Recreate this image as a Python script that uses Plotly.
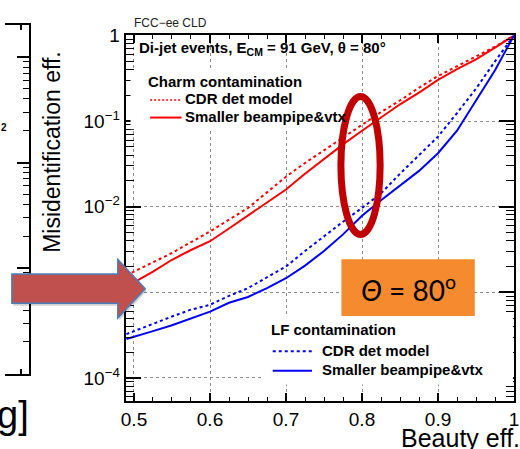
import plotly.graph_objects as go

# ---------------- data ----------------
beauty_eff = [0.490, 0.500, 0.525, 0.550, 0.575, 0.600, 0.625, 0.650, 0.675, 0.700,
              0.725, 0.750, 0.775, 0.800, 0.825, 0.850, 0.875, 0.900, 0.925, 0.950,
              0.975, 1.000]

charm_cdr = [1.58e-3, 1.75e-3, 2.22e-3, 2.88e-3, 3.85e-3, 5.14e-3, 7.05e-3, 9.66e-3, 1.47e-2, 2.24e-2,
             3.24e-2, 4.56e-2, 6.41e-2, 9.02e-2, 0.127, 0.174, 0.245, 0.336, 0.437, 0.569,
             0.739, 1.0]
charm_small = [1.18e-3, 1.31e-3, 1.75e-3, 2.40e-3, 3.12e-3, 3.95e-3, 5.56e-3, 7.83e-3, 1.13e-2, 1.59e-2,
               2.43e-2, 3.60e-2, 5.34e-2, 7.71e-2, 0.111, 0.157, 0.215, 0.303, 0.404, 0.525,
               0.720, 1.0]
lf_cdr = [3.25e-4, 3.52e-4, 4.35e-4, 5.22e-4, 6.28e-4, 7.16e-4, 9.08e-4, 1.12e-3, 1.50e-3, 2.00e-3,
          3.04e-3, 4.51e-3, 6.68e-3, 9.66e-3, 1.43e-2, 2.43e-2, 4.00e-2, 6.58e-2, 0.124, 0.239,
          0.498, 1.0]
lf_small = [2.85e-4, 3.01e-4, 3.52e-4, 4.12e-4, 4.95e-4, 5.96e-4, 7.55e-4, 8.83e-4, 1.12e-3, 1.46e-3,
            2.05e-3, 3.04e-3, 4.75e-3, 7.83e-3, 1.19e-2, 1.77e-2, 2.62e-2, 4.21e-2, 7.71e-2, 0.174,
            0.393, 1.0]

x_tickvals = [0.5, 0.6, 0.7, 0.8, 0.9, 1.0]
x_ticktext = ["0.5", "0.6", "0.7", "0.8", "0.9", "1"]
y_tickvals = [1e-4, 1e-3, 1e-2, 1e-1, 1]
y_ticktext = ["10<sup>\u22124</sup>", "10<sup>\u22123</sup>", "10<sup>\u22122</sup>",
              "10<sup>\u22121</sup>", "1"]

# ---------------- geometry helpers ----------------
W, H = 520, 449
def PX(x):
    return x / W
def PY(y):
    return 1 - y / H

FONT = "Liberation Sans, Arial, Helvetica, sans-serif"
RED = "#ff0000"
BLUE = "#0000ff"

minor_log = [m * 10.0 ** e for e in range(-6, 4) for m in range(2, 10)]

fig = go.Figure()

series = [
    (charm_cdr, RED, "dot"),
    (charm_small, RED, "solid"),
    (lf_cdr, BLUE, "dot"),
    (lf_small, BLUE, "solid"),
]
for ys, col, dash in series:
    fig.add_trace(go.Scatter(x=beauty_eff, y=ys, mode="lines",
                             line=dict(color=col, width=2, dash=dash),
                             xaxis="x", yaxis="y", showlegend=False, hoverinfo="skip"))

# empty trace for the neighbouring (cut-off) panel
fig.add_trace(go.Scatter(x=[], y=[], xaxis="x2", yaxis="y2", showlegend=False))

shapes = []
# white legend boxes (drawn above curves/grid like ROOT TLegend)
shapes.append(dict(type="rect", xref="paper", yref="paper", layer="above",
                   x0=PX(128), x1=PX(353), y0=PY(62), y1=PY(122),
                   fillcolor="white", line=dict(width=0)))
shapes.append(dict(type="rect", xref="paper", yref="paper", layer="above",
                   x0=PX(263), x1=PX(518), y0=PY(313), y1=PY(383),
                   fillcolor="white", line=dict(width=0)))
# legend sample lines
shapes.append(dict(type="line", xref="paper", yref="paper", layer="above",
                   x0=PX(148), x1=PX(180), y0=PY(92), y1=PY(92),
                   line=dict(color=RED, width=1.5, dash="2px,2px")))
shapes.append(dict(type="line", xref="paper", yref="paper", layer="above",
                   x0=PX(148), x1=PX(180), y0=PY(110), y1=PY(110),
                   line=dict(color=RED, width=2)))
shapes.append(dict(type="line", xref="paper", yref="paper", layer="above",
                   x0=PX(273), x1=PX(313), y0=PY(349), y1=PY(349),
                   line=dict(color=BLUE, width=2, dash="dot")))
shapes.append(dict(type="line", xref="paper", yref="paper", layer="above",
                   x0=PX(273), x1=PX(313), y0=PY(369), y1=PY(369),
                   line=dict(color=BLUE, width=2)))
# orange box
shapes.append(dict(type="rect", xref="paper", yref="paper", layer="above",
                   x0=PX(343), x1=PX(479), y0=PY(255), y1=PY(313),
                   fillcolor="#F58B2E", line=dict(width=0)))
# red ellipse
shapes.append(dict(type="circle", xref="paper", yref="paper", layer="above",
                   x0=PX(342.5), x1=PX(382.5), y0=PY(88.5), y1=PY(229.5),
                   line=dict(color="#C00000", width=7)))
# arrow (shadow + body)
def arrow_path(dx, dy):
    pts = [(7, 270), (115, 270), (115, 255), (143, 285), (115, 315), (115, 300), (7, 300)]
    return "M " + " L ".join(f"{PX(x + dx):.5f},{PY(y + dy):.5f}" for x, y in pts) + " Z"
shapes.append(dict(type="path", xref="paper", yref="paper", layer="above",
                   path=arrow_path(1.5, 2.5), fillcolor="rgba(0,0,0,0.18)", line=dict(width=0)))
shapes.append(dict(type="path", xref="paper", yref="paper", layer="above",
                   path=arrow_path(0, 0), fillcolor="#C0504D",
                   line=dict(color="#4A7EBB", width=1.5)))

def ann(text, x, y, size, xanchor="left", color="black", angle=0, family=FONT):
    return dict(text=text, x=PX(x), y=PY(y), xref="paper", yref="paper",
                xanchor=xanchor, yanchor="middle", showarrow=False, textangle=angle,
                font=dict(family=family, size=size, color=color))

annotations = [
    ann("FCC\u2212ee CLD", 129, 13, 12, color="#222"),
    ann("<b>Di-jet events, E<sub>CM</sub> = 91 GeV, \u03b8 = 80\u00b0</b>", 135, 39, 15),
    ann("<b>Charm contamination</b>", 144, 73, 15),
    ann("<b>CDR det model</b>", 181, 91, 15),
    ann("<b>Smaller beampipe&vtx</b>", 181, 109, 15),
    ann("<b>LF contamination</b>", 269, 327, 15),
    ann("<b>CDR det model</b>", 321, 348, 15),
    ann("<b>Smaller beampipe&vtx</b>", 321, 368, 15),
    ann("Misidentification eff.", 48, 145, 23, xanchor="center", angle=-90),
    ann("Beauty eff.", 402, 438, 25),
    ann("<i>\u0398</i> = 80<sup>o</sup>", 411, 285, 28, xanchor="center", family="Lato, Carlito, sans-serif"),
    ann("<b>2</b>", 4, 120, 10, xanchor="right"),
    ann("g]", 26, 414, 38, xanchor="right"),
]

axis_common = dict(showline=True, linecolor="black", linewidth=2, zeroline=False)

fig.update_layout(
    width=W, height=H,
    margin=dict(l=0, r=0, t=0, b=0),
    paper_bgcolor="white", plot_bgcolor="white",
    showlegend=False,
    xaxis=dict(domain=[123 / W, 519 / W], anchor="y", range=[0.489, 1.0],
               mirror="ticks", ticks="inside", ticklen=8, tickwidth=1.5, tickcolor="black",
               tickvals=x_tickvals, ticktext=x_ticktext, ticklabeloverflow="allow",
               tickfont=dict(family=FONT, size=19, color="black"),
               showgrid=True, gridcolor="#8c8c8c", griddash="dot", gridwidth=1,
               minor=dict(ticks="inside", ticklen=4, tickwidth=1, tickcolor="black",
                          dtick=0.025, tick0=0.5, showgrid=False),
               **axis_common),
    yaxis=dict(domain=[1 - 400 / H, 1 - 26 / H], anchor="x", type="log", range=[-4.27, 0],
               mirror="ticks", ticks="inside", ticklen=15, tickwidth=1.5, tickcolor="black",
               tickvals=y_tickvals, ticktext=y_ticktext,
               tickfont=dict(family=FONT, size=19, color="black"),
               showgrid=True, gridcolor="#8c8c8c", griddash="dot", gridwidth=1,
               minor=dict(ticks="inside", ticklen=8, tickwidth=1, tickcolor="black",
                          tickvals=minor_log, showgrid=False),
               **axis_common),
    xaxis2=dict(domain=[0, 24 / W], anchor="y2", range=[0, 1],
                mirror="ticks", ticks="inside", ticklen=5, tickwidth=1.5, tickcolor="black",
                tickvals=[0.667], showticklabels=False, showgrid=False,
                **axis_common),
    yaxis2=dict(domain=[1 - 372 / H, 1 - 15 / H], anchor="x2", type="log", range=[0, 3.3056],
                side="right", ticks="inside", ticklen=12, tickwidth=1.5, tickcolor="black",
                tickvals=[1, 10, 100, 1000], showticklabels=False, showgrid=False,
                minor=dict(ticks="inside", ticklen=6, tickwidth=1, tickcolor="black",
                           tickvals=minor_log, showgrid=False),
                **axis_common),
    shapes=shapes,
    annotations=annotations,
)

fig.write_html("out.html", config={"displayModeBar": False},
               post_script="document.body.style.margin='0';document.body.style.overflow='hidden';")
